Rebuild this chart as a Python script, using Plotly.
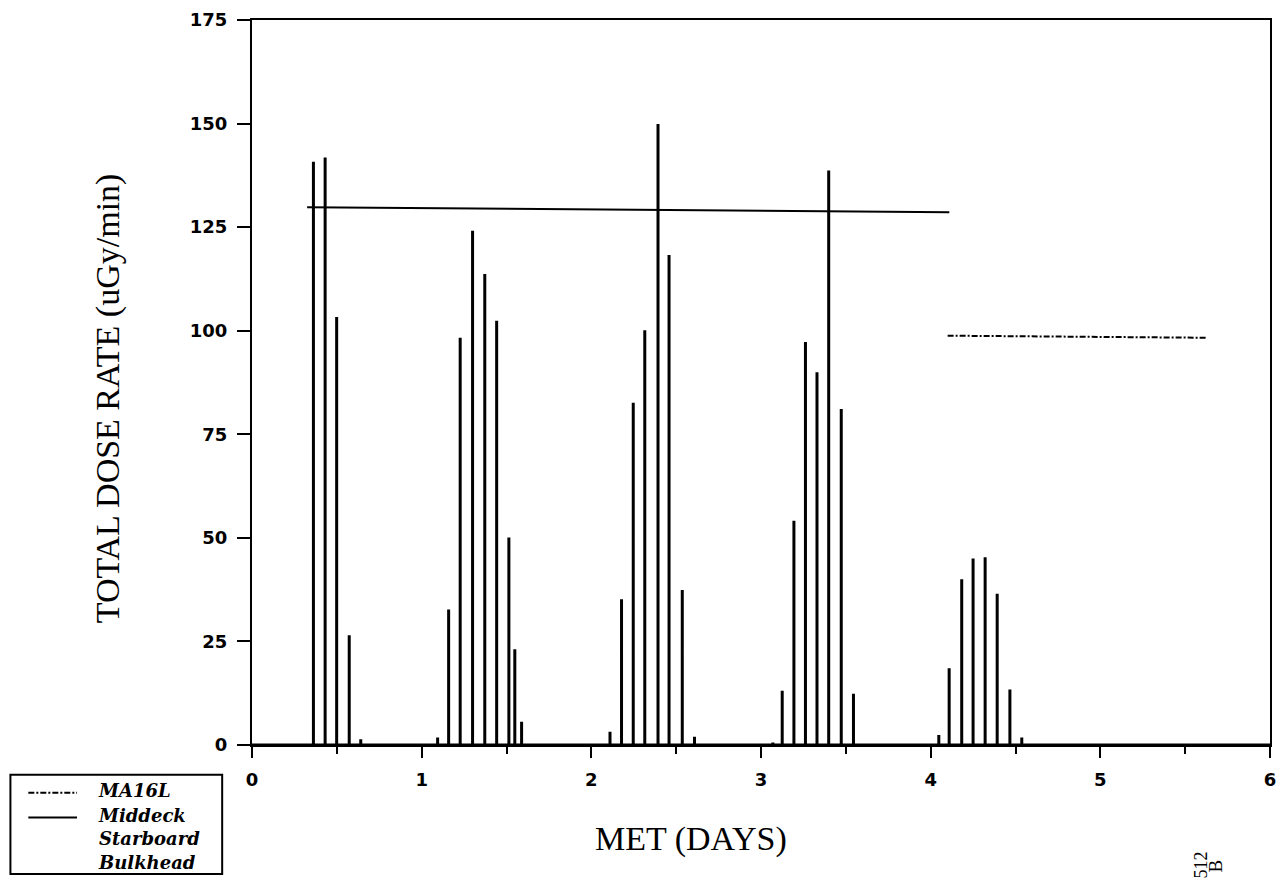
import plotly.graph_objects as go

W, H = 1285, 878
ML, MR, MT, MB = 252, 9, 15, 133

# MET (days) of each South Atlantic Anomaly pass and its peak dose rate (uGy/min)
pass_day = [
    0.362, 0.431, 0.499, 0.573, 0.641,
    1.094, 1.159, 1.227, 1.300, 1.372, 1.442, 1.514, 1.549, 1.589,
    2.110, 2.178, 2.247, 2.315, 2.393, 2.458, 2.536, 2.608,
    3.070, 3.125, 3.194, 3.262, 3.330, 3.399, 3.473, 3.545,
    4.048, 4.109, 4.183, 4.250, 4.321, 4.392, 4.467, 4.537,
]
pass_rate = [
    140.8, 141.8, 103.3, 26.5, 1.4,
    1.8, 32.7, 98.3, 124.1, 113.7, 102.4, 50.1, 23.1, 5.6,
    3.2, 35.2, 82.6, 100.1, 149.9, 118.3, 37.4, 2.0,
    0.6, 13.1, 54.1, 97.3, 90.0, 138.7, 81.1, 12.4,
    2.4, 18.5, 40.0, 45.0, 45.3, 36.5, 13.4, 1.8,
]

# Mean dose rate levels
middeck_day = [0.325, 4.11]
middeck_rate = [129.8, 128.6]
ma16l_day = [4.10, 5.63]
ma16l_rate = [98.8, 98.3]

x_ticks = [0, 1, 2, 3, 4, 5, 6]
y_ticks = [0, 25, 50, 75, 100, 125, 150, 175]

# spike trace: baseline at zero with a vertical excursion at every pass
sx, sy = [0.0], [0.0]
for d, v in zip(pass_day, pass_rate):
    sx += [d, d, d]
    sy += [0.0, v, 0.0]
sx.append(6.0)
sy.append(0.0)

fig = go.Figure()
fig.add_trace(go.Scatter(x=sx, y=sy, mode="lines", name="Middeck Starboard Bulkhead",
                         line=dict(color="black", width=3), showlegend=False))
fig.add_trace(go.Scatter(x=middeck_day, y=middeck_rate, mode="lines", name="Middeck mean",
                         line=dict(color="black", width=2), showlegend=False))
fig.add_trace(go.Scatter(x=ma16l_day, y=ma16l_rate, mode="lines", name="MA16L",
                         line=dict(color="black", width=2, dash="6px,2px,2px,2px"),
                         showlegend=False))

pw = W - ML - MR
ph = H - MT - MB


def px(x):
    return (x - ML) / pw


def py(y):
    return (H - MB - y) / ph


tick_font = dict(family="DejaVu Sans", size=18, color="black", weight="bold")
title_font = dict(family="Liberation Serif", size=34, color="black")
key_font = dict(family="DejaVu Serif", size=18, color="black", style="italic", weight="bold")

fig.update_xaxes(range=[0, 6], tickvals=x_ticks, ticks="outside", ticklen=11, tickwidth=2,
                 tickcolor="black", showline=True, linewidth=2, linecolor="black", mirror=True,
                 showgrid=False, zeroline=False, tickfont=tick_font, ticklabelstandoff=6,
                 minor=dict(dtick=0.5, ticks="outside", ticklen=7, tickwidth=2,
                            tickcolor="black", showgrid=False))
fig.update_yaxes(range=[0, 175], tickvals=y_ticks, ticks="outside", ticklen=13, tickwidth=2,
                 tickcolor="black", showline=True, linewidth=2, linecolor="black", mirror=True,
                 showgrid=False, zeroline=False, tickfont=tick_font, ticklabelstandoff=6)

annotations = [
    dict(text="TOTAL DOSE RATE (uGy/min)", textangle=-90, x=px(108), y=py(396),
         font=title_font),
    dict(text="MET (DAYS)", x=px(694), y=py(840), font=title_font),
    dict(text="MA16L", x=px(95), y=py(791), xanchor="left", font=key_font),
    dict(text="Middeck<br>Starboard<br>Bulkhead", x=px(95), y=py(840), xanchor="left",
         align="left", font=key_font),
    dict(text="512", textangle=-90, x=px(1207), y=py(866),
         font=dict(family="Liberation Serif", size=18, color="black")),
    dict(text="B", textangle=-90, x=px(1221), y=py(867),
         font=dict(family="Liberation Serif", size=19, color="black")),
]
for a in annotations:
    a.update(xref="paper", yref="paper", showarrow=False)
    a.setdefault("xanchor", "center")
    a.setdefault("yanchor", "middle")

shapes = [
    dict(type="rect", x0=px(9), x1=px(222), y0=py(775), y1=py(875),
         line=dict(color="black", width=2)),
    dict(type="line", x0=px(27), x1=px(76), y0=py(793), y1=py(793),
         line=dict(color="black", width=2, dash="6px,2px,2px,2px")),
    dict(type="line", x0=px(27), x1=px(76), y0=py(818), y1=py(818),
         line=dict(color="black", width=2)),
]
for s in shapes:
    s.update(xref="paper", yref="paper")

fig.update_layout(width=W, height=H, margin=dict(l=ML, r=MR, t=MT, b=MB, pad=0),
                  paper_bgcolor="white", plot_bgcolor="white",
                  annotations=annotations, shapes=shapes, showlegend=False)

fig.write_html("out.html")
